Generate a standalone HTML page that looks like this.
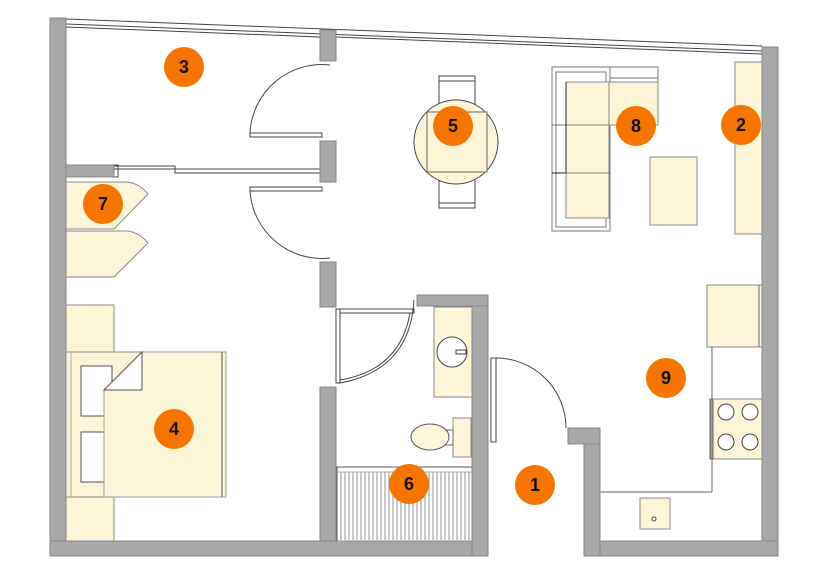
<!DOCTYPE html>
<html><head><meta charset="utf-8"><style>
html,body{margin:0;padding:0;background:#fff;}
svg{display:block}
text{font-family:"Liberation Sans",sans-serif;font-weight:bold;font-size:18px;fill:#111;text-anchor:middle;dominant-baseline:central}
</style></head><body>
<svg width="830" height="578" viewBox="0 0 830 578" xmlns="http://www.w3.org/2000/svg">
<!-- window top -->
<g stroke="#444" stroke-width="1" fill="none">
<line x1="66" y1="19" x2="762" y2="46"/>
<line x1="66" y1="24" x2="762" y2="51"/>
<line x1="66" y1="27" x2="320" y2="37"/>
<line x1="336" y1="37" x2="762" y2="54"/>
</g>
<!-- furniture cream -->
<g fill="#fdf5d8" stroke="#888" stroke-width="1">
<path d="M66 182 H128 Q140 184 148 194 L114 229 H66 Z"/>
<path d="M66 231 H128 Q140 233 148 243 L114 277 H66 Z"/>
<rect x="66" y="305" width="48" height="47"/>
<rect x="66" y="497" width="48" height="44"/>
<rect x="66" y="352" width="160" height="145"/>
<rect x="735" y="62" width="27" height="172"/>
<rect x="650" y="157" width="47" height="68"/>
<rect x="707" y="285" width="55" height="62"/>
<rect x="710" y="399" width="52" height="60"/>
<rect x="640" y="498" width="30" height="31"/>
<rect x="434" y="307" width="38" height="90"/>
<rect x="453" y="418" width="18" height="39"/>
</g>
<!-- bed details -->
<g stroke="#555" stroke-width="1">
<line x1="71" y1="352" x2="71" y2="497" stroke="#aaa"/>
<rect x="81" y="366" width="31" height="50" fill="#fff"/>
<rect x="81" y="432" width="31" height="50" fill="#fff"/>
<path d="M104 390 L142 352 H226 V497 H104 Z" fill="#fdf5d8" stroke="#999"/>
<path d="M104 390 L142 352 V390 Z" fill="#fff"/>
<line x1="222" y1="352" x2="222" y2="497"/>
</g>
<!-- sofa -->
<g fill="none" stroke="#777" stroke-width="1">
<path d="M552 67 H658 V82" />
<rect x="552" y="67" width="58" height="164"/>
<rect x="556" y="72" width="50" height="155"/>
<line x1="610" y1="67" x2="610" y2="125"/>
<line x1="552" y1="125" x2="610" y2="125"/>
<line x1="552" y1="173" x2="610" y2="173" stroke="#222"/>
<line x1="610" y1="78" x2="658" y2="78"/>
</g>
<g fill="#fdf5d8" stroke="#888" stroke-width="1">
<rect x="566" y="82" width="43" height="43"/>
<rect x="609" y="82" width="49" height="43"/>
<rect x="566" y="125" width="43" height="48"/>
<rect x="566" y="173" width="43" height="45"/>
</g>
<line x1="566" y1="82" x2="566" y2="173" stroke="#222"/>
<!-- table 5 -->
<g stroke="#444" stroke-width="1">
<rect x="439" y="76" width="36" height="36" fill="#fff"/>
<rect x="439" y="172" width="36" height="36" fill="#fff"/>
<line x1="439" y1="81" x2="475" y2="81"/><line x1="439" y1="203" x2="475" y2="203"/>
<circle cx="456" cy="142" r="42" fill="#fdf5d8"/>
<rect x="427" y="112" width="60" height="60" fill="#fdf5d8" stroke="#666"/>
</g>
<!-- kitchen lines -->
<g stroke="#666" fill="none">
<line x1="712" y1="347" x2="712" y2="399"/>
<line x1="712" y1="459" x2="712" y2="492"/>
<line x1="600" y1="492" x2="712" y2="492"/>
<rect x="710" y="399" width="3" height="60" fill="#999"/>
<line x1="759" y1="285" x2="759" y2="347"/>
</g>
<g fill="#fff" stroke="#444">
<circle cx="726" cy="412" r="8"/><circle cx="750" cy="412" r="8"/>
<circle cx="726" cy="442" r="8"/><circle cx="750" cy="442" r="8"/>
<circle cx="654" cy="519" r="2"/>
<circle cx="452" cy="352" r="15" fill="#fff"/>
</g>
<path d="M456 350 H466 V354 H456 Z" fill="#fff" stroke="#444"/>
<!-- toilet -->
<rect x="445" y="430" width="8" height="15" fill="#fff" stroke="#666"/>
<ellipse cx="430" cy="437" rx="19" ry="13" fill="#fdf5d8" stroke="#555"/>
<!-- tub -->
<rect x="337" y="467" width="135" height="74" fill="#fff" stroke="#555"/>
<path d="M341 472 V540 M345 472 V540 M349 472 V540 M353 472 V540 M357 472 V540 M361 472 V540 M365 472 V540 M369 472 V540 M373 472 V540 M377 472 V540 M381 472 V540 M385 472 V540 M389 472 V540 M393 472 V540 M397 472 V540 M401 472 V540 M405 472 V540 M409 472 V540 M413 472 V540 M417 472 V540 M421 472 V540 M425 472 V540 M429 472 V540 M433 472 V540 M437 472 V540 M441 472 V540 M445 472 V540 M449 472 V540 M453 472 V540 M457 472 V540 M461 472 V540 M465 472 V540 M469 472 V540" stroke="#777" stroke-width="0.8"/>
<line x1="337" y1="472" x2="472" y2="472" stroke="#aaa"/>
<!-- doors -->
<g fill="none" stroke="#444" stroke-width="1">
<path d="M330 65 A72 72 0 0 0 250 133"/>
<rect x="250" y="133" width="72" height="4"/>
<rect x="250" y="187" width="72" height="4"/>
<path d="M250 191 A72 72 0 0 0 330 258"/>
<rect x="113" y="166" width="62" height="3" /><rect x="175" y="169" width="145" height="4"/>
<rect x="113" y="165" width="5" height="12"/>
<rect x="336" y="309" width="4" height="74"/>
<rect x="340" y="309" width="74" height="4"/>
<path d="M414 300 Q410 370 340 383"/>
<path d="M410 313 Q400 370 340 380"/>
<rect x="491" y="358" width="5" height="84"/>
<path d="M496 358 A70 70 0 0 1 566 428"/>
</g>
<!-- walls -->
<g fill="#a8a8a8" stroke="#888" stroke-width="1">
<rect x="50" y="18" width="16" height="538"/>
<rect x="50" y="541" width="438" height="15"/>
<rect x="472" y="295" width="16" height="261"/>
<rect x="417" y="295" width="71" height="11"/>
<rect x="320" y="387" width="16" height="154"/>
<rect x="320" y="262" width="16" height="45"/>
<rect x="320" y="30" width="16" height="31"/>
<rect x="320" y="141" width="16" height="41"/>
<rect x="66" y="165" width="48" height="12"/>
<rect x="762" y="47" width="16" height="509"/>
<rect x="584" y="541" width="194" height="15"/>
<rect x="584" y="428" width="16" height="128"/>
<rect x="568" y="428" width="32" height="16"/>
</g>
<!-- badges -->
<g fill="#f57500">
<circle cx="184" cy="67" r="20"/><circle cx="453" cy="126" r="20"/>
<circle cx="636" cy="126" r="20"/><circle cx="741" cy="125" r="20"/>
<circle cx="103" cy="204" r="20"/><circle cx="174" cy="429" r="20"/>
<circle cx="409" cy="484" r="20"/><circle cx="535" cy="485" r="20"/>
<circle cx="666" cy="378" r="20"/>
</g>
<text x="184" y="67">3</text><text x="453" y="126">5</text>
<text x="636" y="126">8</text><text x="741" y="125">2</text>
<text x="103" y="204">7</text><text x="174" y="429">4</text>
<text x="409" y="484">6</text><text x="535" y="485">1</text>
<text x="666" y="378">9</text>
</svg>
</body></html>
